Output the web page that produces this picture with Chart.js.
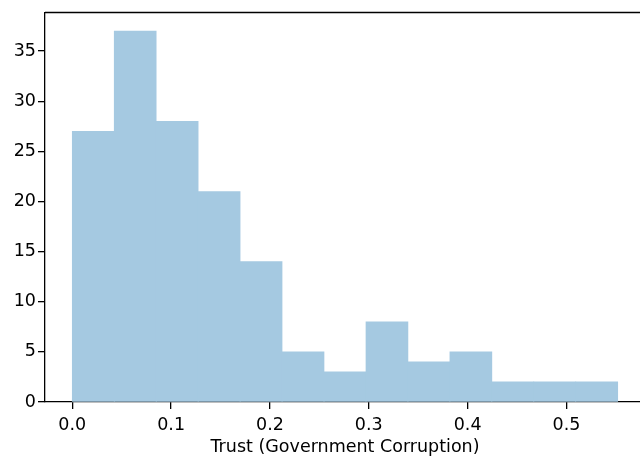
<!DOCTYPE html>
<html>
<head>
<meta charset="utf-8">
<script src="https://cdn.jsdelivr.net/npm/chart.js@4/dist/chart.umd.min.js"></script>
<style>
  html, body { margin: 0; padding: 0; background: #fff; overflow: hidden; }
  #wrap { width: 646px; height: 458px; }
</style>
</head>
<body>
<div id="wrap"><canvas id="c" width="646" height="458"></canvas></div>
<script>
// Histogram of the "Trust (Government Corruption)" score: 13 equal-width bins
const binStart = 0.0;
const binEnd = 0.55191;
const counts = [27, 37, 28, 21, 14, 5, 3, 8, 4, 5, 2, 2, 2];
const xTicks = [0.0, 0.1, 0.2, 0.3, 0.4, 0.5];
const yTicks = [0, 5, 10, 15, 20, 25, 30, 35];
const xLabel = 'Trust (Government Corruption)';

const binWidth = (binEnd - binStart) / counts.length;
const bars = counts.map((c, i) => ({ x: binStart + (i + 0.5) * binWidth, y: c }));

// 5% margins on both axes
const span = binEnd - binStart;
const xMin = binStart - 0.05 * span;
const xMax = binEnd + 0.05 * span;
const yMax = Math.max(...counts) * 1.05;

const font = { family: 'DejaVu Sans', size: 17.5 };
const ink = '#000';

// top and right edges of the plot frame
const framePlugin = {
  id: 'frame',
  afterDraw(chart) {
    const { ctx, chartArea: a } = chart;
    ctx.save();
    ctx.strokeStyle = ink;
    ctx.lineWidth = 1.3;
    ctx.beginPath();
    ctx.moveTo(a.left, a.top);
    ctx.lineTo(a.right, a.top);
    ctx.lineTo(a.right, a.bottom);
    ctx.stroke();
    ctx.restore();
  }
};

new Chart(document.getElementById('c'), {
  type: 'bar',
  data: {
    datasets: [{
      data: bars,
      // steelblue at 40% over white, flattened so adjacent bars don't stack
      backgroundColor: 'rgb(165,201,225)',
      borderWidth: 0,
      barPercentage: 1,
      categoryPercentage: 1
    }]
  },
  options: {
    responsive: false,
    animation: false,
    layout: { padding: { top: 11, right: 1, left: 0, bottom: 0 } },
    plugins: { legend: { display: false }, tooltip: { enabled: false } },
    scales: {
      x: {
        type: 'linear',
        min: xMin,
        max: xMax,
        offset: false,
        afterBuildTicks: s => { s.ticks = xTicks.map(v => ({ value: v })); },
        afterFit: s => { s.height = 56; },
        ticks: {
          autoSkip: false, maxRotation: 0, padding: 6,
          color: ink, font,
          callback: v => Number(v).toFixed(1)
        },
        grid: { offset: false, drawOnChartArea: false, drawTicks: true, tickLength: 7, color: ink, lineWidth: 1.3 },
        border: { display: true, color: ink, width: 1.3 },
        title: { display: true, text: xLabel, color: ink, font, padding: 0 }
      },
      y: {
        type: 'linear',
        min: 0,
        max: yMax,
        afterBuildTicks: s => { s.ticks = yTicks.map(v => ({ value: v })); },
        afterFit: s => { s.width = 45; },
        ticks: { padding: 2, color: ink, font, callback: v => String(v) },
        grid: { drawOnChartArea: false, drawTicks: true, tickLength: 7, color: ink, lineWidth: 1.3 },
        border: { display: true, color: ink, width: 1.3 }
      }
    }
  },
  plugins: [framePlugin]
});
</script>
</body>
</html>
